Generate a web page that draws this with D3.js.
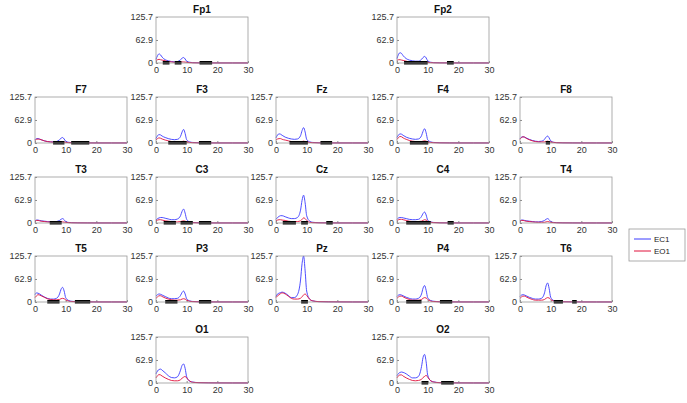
<!DOCTYPE html>
<html><head><meta charset="utf-8">
<script src="https://cdn.jsdelivr.net/npm/d3@7"></script>
<style>body{margin:0;background:#fff}svg{display:block}</style>
</head><body>
<svg id="c" width="687" height="403"></svg>
<script>
// frequency grid (Hz)
const freqs = [0,0.5,1,1.5,2,3,4,5,6,7,8,8.5,9,9.5,10,11,12,14,17,20,25,30];
const xTicks = [0,10,20,30];
const yTicks = [0,62.9,125.7];
const seriesNames = ["EC1","EO1"];

// channel names, grid position (row, col)
const channels = ["Fp1","Fp2","F7","F3","Fz","F4","F8","T3","C3","Cz","C4","T4","T5","P3","Pz","P4","T6","O1","O2"];
const rows = [0,0,1,1,1,1,1,2,2,2,2,2,3,3,3,3,3,4,4];
const cols = [1,3,0,1,2,3,4,0,1,2,3,4,0,1,2,3,4,1,3];

// EC1 (eyes closed) spectra
const ec1 = {
  Fp1:[10,20,25,22,16,9,6,4,3,4,9,13,15,11,5,2,1,0.5,0.3,0.2,0.1,0.1],
  Fp2:[12,24,28,26,20,12,8,6,5,5,10,15,18,14,6,2,1,0.5,0.3,0.2,0.1,0.1],
  F7:[9,12,12,11,9,6,4,3,3,4,9,13,15,11,5,2,1,0.5,0.3,0.2,0.1,0.1],
  F3:[12,20,23,22,19,15,12,10,9,10,18,30,37,26,9,3,1.5,0.6,0.3,0.2,0.1,0.1],
  Fz:[14,22,25,24,21,16,13,11,10,11,20,34,42,30,10,3,1.5,0.6,0.3,0.2,0.1,0.1],
  F4:[15,22,25,24,21,16,13,11,10,11,20,32,39,28,9,3,1.5,0.6,0.3,0.2,0.1,0.1],
  F8:[12,16,17,16,14,10,7,5,4,5,10,16,19,14,6,2,1,0.5,0.3,0.2,0.1,0.1],
  T3:[6,8,8,7,6,5,4,3,3,4,7,10,12,9,4,1.5,1,0.5,0.3,0.2,0.1,0.1],
  C3:[8,12,14,15,15,13,11,9,9,11,20,32,38,27,10,3,1.5,0.6,0.3,0.2,0.1,0.1],
  Cz:[10,15,18,20,20,17,14,12,12,15,35,62,76,55,20,5,2,0.8,0.4,0.2,0.1,0.1],
  C4:[10,14,15,15,14,12,10,9,9,10,18,26,30,22,8,3,1.5,0.6,0.3,0.2,0.1,0.1],
  T4:[6,8,8,7,6,5,4,3,3,4,7,10,12,9,4,1.5,1,0.5,0.3,0.2,0.1,0.1],
  T5:[20,25,24,22,19,14,10,8,8,10,22,35,40,30,12,4,2,0.8,0.4,0.2,0.1,0.1],
  P3:[16,20,22,21,19,15,11,9,9,10,18,26,30,22,9,3,1.5,0.6,0.3,0.2,0.1,0.1],
  Pz:[15,22,24,26,27,24,18,12,12,20,60,105,125.7,85,30,8,3,1,0.5,0.3,0.1,0.1],
  P4:[15,19,20,19,17,13,10,8,8,10,22,38,45,32,12,4,2,0.8,0.4,0.2,0.1,0.1],
  T6:[15,19,20,19,17,13,10,8,8,10,25,44,52,37,13,4,2,0.8,0.4,0.2,0.1,0.1],
  O1:[25,33,37,38,35,28,20,15,14,17,35,48,52,40,17,5,2.5,1,0.5,0.3,0.1,0.1],
  O2:[20,26,29,30,29,25,19,14,14,18,45,70,78,58,22,6,3,1,0.5,0.3,0.1,0.1]
};
// EO1 (eyes open) spectra
const eo1 = {
  Fp1:[7,9,10,9,8,6,4,3,2,2,2,3,3,2.5,2,1,0.5,0.3,0.2,0.1,0.1,0.1],
  Fp2:[7,9,9,8,7,5,3,2,2,2,2,2.5,3,2.5,2,1,0.5,0.3,0.2,0.1,0.1,0.1],
  F7:[7,10,11,10,9,6,4,3,2,2,2,3,3,2.5,2,1,0.5,0.3,0.2,0.1,0.1,0.1],
  F3:[8,12,14,13,11,8,6,4,3,3,3,4,5,4,3,1.5,0.8,0.4,0.2,0.1,0.1,0.1],
  Fz:[8,11,12,12,10,8,6,4,3,3,3,4,5,4,3,1.5,0.8,0.4,0.2,0.1,0.1,0.1],
  F4:[10,15,18,17,14,10,7,5,4,4,4,5,6,5,3,1.5,0.8,0.4,0.2,0.1,0.1,0.1],
  F8:[10,15,17,16,13,9,6,4,3,3,3,4,5,4,3,1.5,0.8,0.4,0.2,0.1,0.1,0.1],
  T3:[5,7,7,6,5,4,3,2.5,2,2,2,3,3,2.5,2,1,0.5,0.3,0.2,0.1,0.1,0.1],
  C3:[6,8,9,9,8,6,5,4,3,3,4,5,6,5,3,1.5,0.8,0.4,0.2,0.1,0.1,0.1],
  Cz:[6,8,9,9,8,7,5,4,4,4,6,10,14,12,7,2,1,0.4,0.2,0.1,0.1,0.1],
  C4:[7,9,10,10,9,7,5,4,4,4,5,7,9,8,5,2,1,0.4,0.2,0.1,0.1,0.1],
  T4:[5,7,7,6,5,4,3,2.5,2,2,2,3,4,3,2,1,0.5,0.3,0.2,0.1,0.1,0.1],
  T5:[12,17,20,19,17,13,9,7,6,6,7,9,10,9,6,2.5,1.2,0.5,0.3,0.1,0.1,0.1],
  P3:[10,14,17,17,15,11,8,6,5,5,6,8,9,8,5,2,1,0.5,0.3,0.1,0.1,0.1],
  Pz:[12,17,20,23,25,22,16,10,8,8,10,15,19,22,18,7,3,1,0.5,0.3,0.1,0.1],
  P4:[10,14,16,16,14,10,7,5,5,5,7,10,12,11,7,2.5,1.2,0.5,0.3,0.1,0.1,0.1],
  T6:[10,14,16,16,14,10,7,5,5,5,7,10,12,11,7,2.5,1.2,0.5,0.3,0.1,0.1,0.1],
  O1:[14,20,23,22,19,14,10,7,6,6,9,13,16,18,14,5,2,0.8,0.4,0.2,0.1,0.1],
  O2:[14,20,22,22,19,14,10,7,6,7,10,15,18,21,16,6,2.5,0.8,0.4,0.2,0.1,0.1]
};
// significant frequency ranges [from, to] Hz
const sig = {
  Fp1:[[2.2,4.4],[6.1,8.3],[14.2,18.3]],
  Fp2:[[2.3,10],[16.3,18.5]],
  F7:[[5.9,9.6],[11.8,17.7]],
  F3:[[4,10],[14,18]],
  Fz:[[4.4,10.4],[14.5,18.3]],
  F4:[[4.2,10.2]],
  F8:[[8.4,9.8]],
  T3:[[4.8,8.7]],
  C3:[[2.5,6.5],[8,12],[14,18]],
  Cz:[[2.2,6.5],[8.2,10.4],[16.4,18.5]],
  C4:[[3,11],[16.5,18.5]],
  T4:[],
  T5:[[4,8],[13,18]],
  P3:[[3,7],[14,18]],
  Pz:[[8.2,10.4]],
  P4:[[3,8],[14,18]],
  T6:[[11,14],[17,18.5]],
  O1:[],
  O2:[[8,10.2],[14.4,18.5]]
};

const colLeft = [35,156,276,397,520];
const rowBottom = [63,143,223,302,383];
const W = 92, H = 46;
const colors = {EC1:"#3a3aff", EO1:"#e0103a"};

const svg = d3.select("#c");
const x = d3.scaleLinear().domain([0,30]).range([0,W]);
const y = d3.scaleLinear().domain([0,125.7]).range([H,0]);
const line = d3.line().x((d,i)=>x(freqs[i])).y(d=>y(Math.min(d,125.7))).curve(d3.curveMonotoneX);

channels.forEach((ch,k)=>{
  const g = svg.append("g").attr("transform",`translate(${colLeft[cols[k]]},${rowBottom[rows[k]]-H})`);
  g.append("rect").attr("width",W).attr("height",H).attr("fill","#fff");
  const xa = g.append("g").attr("transform",`translate(0,${H})`)
    .call(d3.axisBottom(x).tickValues(xTicks).tickSize(-2).tickPadding(4).tickFormat(d3.format("d")));
  const ya = g.append("g")
    .call(d3.axisLeft(y).tickValues(yTicks).tickSize(-2).tickPadding(3).tickFormat(d=>d===0?"0":d.toFixed(1)));
  [xa,ya].forEach(a=>{
    a.select(".domain").remove();
    a.selectAll("line").attr("stroke","#8a8a8a");
    a.selectAll("text").attr("fill","#333").style("font-family","Liberation Sans, Arial, sans-serif").style("font-size","9px");
  });
  // lines
  g.append("path").datum(ec1[ch]).attr("d",line).attr("fill","none").attr("stroke",colors.EC1).attr("stroke-width",0.9);
  g.append("path").datum(eo1[ch]).attr("d",line).attr("fill","none").attr("stroke",colors.EO1).attr("stroke-width",0.9);
  // significance bars
  g.selectAll("rect.sig").data(sig[ch]).enter().append("rect").attr("class","sig")
    .attr("x",d=>x(d[0])).attr("width",d=>x(d[1])-x(d[0]))
    .attr("y",H-2).attr("height",3.5).attr("fill","#000");
  // box
  g.append("rect").attr("width",W).attr("height",H).attr("fill","none").attr("stroke","#999").attr("stroke-width",0.8);
  g.append("text").attr("x",W/2).attr("y",-4).attr("text-anchor","middle")
    .style("font-family","Liberation Sans, Arial, sans-serif").style("font-size","10px").style("font-weight","bold").attr("fill","#111").text(ch);
});

// legend
const lg = svg.append("g").attr("transform","translate(629,229)");
lg.append("rect").attr("width",56).attr("height",32).attr("fill","#fff").attr("stroke","#999").attr("stroke-width",0.8);
seriesNames.forEach((s,i)=>{
  lg.append("line").attr("x1",5).attr("x2",22).attr("y1",10+i*12).attr("y2",10+i*12).attr("stroke",colors[s]).attr("stroke-width",1);
  lg.append("text").attr("x",25).attr("y",13+i*12).style("font-family","Liberation Sans, Arial, sans-serif").style("font-size","8px").attr("fill","#222").text(s);
});
</script>
</body></html>
